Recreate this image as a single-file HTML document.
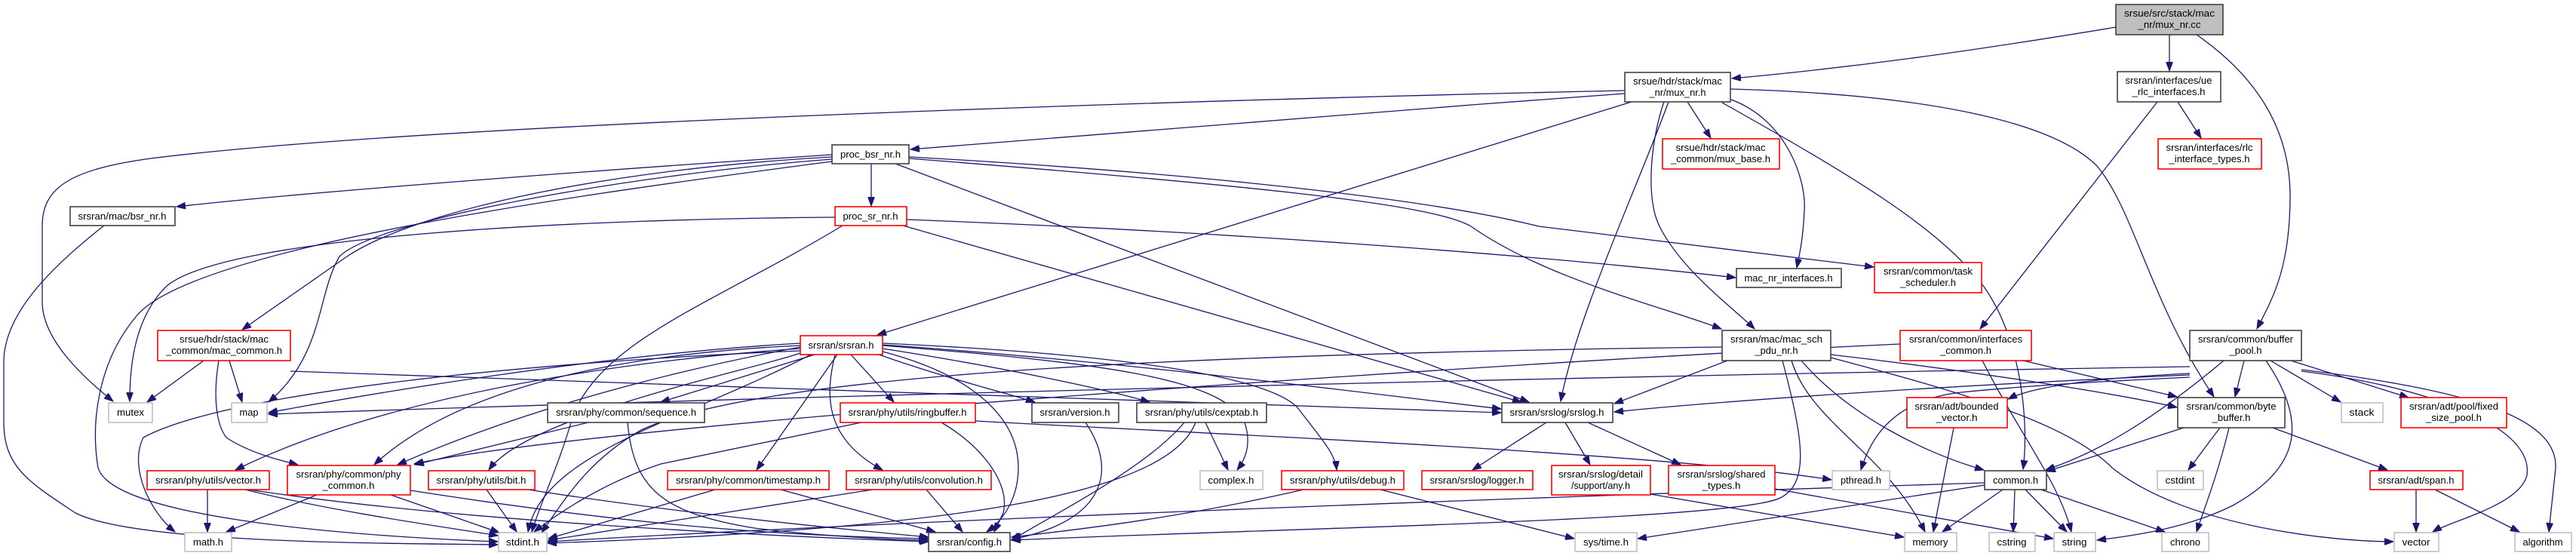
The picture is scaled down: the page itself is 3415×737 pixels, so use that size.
<!DOCTYPE html>
<html><head><meta charset="utf-8"><style>
html,body{margin:0;padding:0;background:#fff;}
svg{display:block;}
text{font-family:"Liberation Sans",sans-serif;font-size:13px;fill:#000;}
.e{fill:none;stroke:#191970;stroke-width:1.3;marker-end:url(#a);}
.b{fill:#fff;stroke:#404040;stroke-width:1.6;}
.r{fill:#fff;stroke:#ff0000;stroke-width:1.6;}
.g{fill:#fff;stroke:#bfbfbf;stroke-width:1.6;}
.rt{fill:#bfbfbf;stroke:#404040;stroke-width:1.6;}
</style></head><body>
<svg width="3415" height="737" viewBox="0 0 3415 737" xmlns="http://www.w3.org/2000/svg">
<defs><marker id="a" markerUnits="userSpaceOnUse" markerWidth="13" markerHeight="9" refX="12" refY="4.5" orient="auto"><path d="M0,0 L12,4.5 L0,9 z" fill="#191970" stroke="#191970"/></marker></defs>
<g>
<path class="e" d="M2805,36 C2600,70 2450,90 2296,104"/>
<path class="e" d="M2876,46 L2876,94"/>
<path class="e" d="M2912,46 C2990,100 3036,170 3036,260 C3036,360 3010,400 2992,436"/>
<path class="e" d="M2887,135 L2918,183"/>
<path class="e" d="M2860,135 L2625,436"/>
<path class="e" d="M2154,120 C1700,130 600,160 200,210 C90,225 56,250 56,300 L56,400 C56,450 110,500 150,532"/>
<path class="e" d="M2154,124 C1800,150 1400,180 1207,198"/>
<path class="e" d="M2163,135 L1163,444"/>
<path class="e" d="M2212,135 C2170,250 2090,420 2069,532"/>
<path class="e" d="M2206,135 C2190,180 2180,260 2200,300 C2230,360 2300,410 2326,436"/>
<path class="e" d="M2237,135 L2268,183"/>
<path class="e" d="M2295,132 C2370,160 2395,240 2392,280 C2390,320 2385,340 2382,355"/>
<path class="e" d="M2283,136 C2450,230 2570,300 2630,380 C2680,450 2690,560 2682,622"/>
<path class="e" d="M2294,118 C2550,125 2720,160 2780,220 C2830,280 2850,400 2935,526"/>
<path class="e" d="M1155,217 L1155,273"/>
<path class="e" d="M1103,205 C800,225 400,255 234,274"/>
<path class="e" d="M1103,208 C800,225 550,280 460,340 L321,437"/>
<path class="e" d="M1103,211 C850,230 500,290 450,340 C420,390 430,470 356,533"/>
<path class="e" d="M1103,214 C750,260 250,330 180,420 C130,480 120,560 130,620 C150,690 500,712 660,718"/>
<path class="e" d="M1187,217 L2027,533"/>
<path class="e" d="M1205,208 C1600,230 1900,265 2040,300 L2484,354"/>
<path class="e" d="M1205,210 C1650,245 1900,270 1950,300 C2050,370 2200,405 2282,436"/>
<path class="e" d="M1107,288 C800,290 300,310 220,380 C180,420 172,480 172,532"/>
<path class="e" d="M1117,299 C950,400 800,450 760,550 C740,620 715,670 705,705"/>
<path class="e" d="M1202,291 C1700,310 2100,345 2301,368"/>
<path class="e" d="M1197,299 L2017,533"/>
<path class="e" d="M138,299 C60,360 5,420 5,480 L5,560 C5,620 40,640 100,680 C180,720 500,720 660,722"/>
<path class="e" d="M270,478 L195,533"/>
<path class="e" d="M304,478 L321,533"/>
<path class="e" d="M290,478 C283,520 285,560 300,580 C330,600 370,610 395,616"/>
<path class="e" d="M385,492 C900,510 1600,535 1990,547"/>
<path class="e" d="M1080,470 L876,533"/>
<path class="e" d="M1128,470 L1185,533"/>
<path class="e" d="M1110,470 L1003,623"/>
<path class="e" d="M1107,470 C1095,520 1090,580 1170,623"/>
<path class="e" d="M1170,466 C1300,500 1350,560 1350,620 C1350,660 1330,690 1308,705"/>
<path class="e" d="M1165,470 C1250,500 1330,520 1372,533"/>
<path class="e" d="M1170,462 C1350,490 1480,520 1524,533"/>
<path class="e" d="M1170,458 C1450,480 1620,500 1650,560 C1660,590 1650,610 1640,623"/>
<path class="e" d="M1170,455 C1500,470 1680,500 1720,540 C1750,580 1770,600 1772,623"/>
<path class="e" d="M1170,457 C1500,480 1800,520 1990,542"/>
<path class="e" d="M1061,462 C800,480 500,530 312,623"/>
<path class="e" d="M1061,458 C800,470 600,520 496,616"/>
<path class="e" d="M1061,460 C900,490 700,540 527,616"/>
<path class="e" d="M1061,468 C1000,490 700,550 648,623"/>
<path class="e" d="M1061,455 C800,470 500,520 356,547"/>
<path class="e" d="M1061,465 C700,480 300,520 190,580 C170,620 200,680 232,705"/>
<path class="e" d="M1075,470 C900,560 720,600 700,705"/>
<path class="e" d="M2290,478 L2140,535"/>
<path class="e" d="M2283,460 C1500,470 1000,500 850,570 C780,610 750,660 718,706"/>
<path class="e" d="M2375,478 C2400,560 2500,600 2552,705"/>
<path class="e" d="M2388,478 C2450,550 2550,600 2630,623"/>
<path class="e" d="M2427,470 C2600,490 2800,520 2886,540"/>
<path class="e" d="M2427,474 C2600,520 2740,560 2800,620 C2900,700 3100,718 3173,718"/>
<path class="e" d="M2363,478 C2390,580 2400,640 2360,660 C2300,690 1700,700 1341,716"/>
<path class="e" d="M2682,478 L2886,526"/>
<path class="e" d="M2628,478 C2680,580 2730,640 2746,705"/>
<path class="e" d="M2519,456 C2000,480 800,560 549,615"/>
<path class="e" d="M2975,478 L2963,526"/>
<path class="e" d="M2948,478 C2850,560 2780,600 2712,623"/>
<path class="e" d="M3010,478 L3103,533"/>
<path class="e" d="M3037,478 L3193,527"/>
<path class="e" d="M3004,478 C3060,560 3050,620 2960,670 C2900,700 2830,710 2780,716"/>
<path class="e" d="M3051,492 C3200,510 3360,560 3350,630 C3340,670 3250,690 3225,705"/>
<path class="e" d="M3051,490 C3300,520 3390,560 3388,620 L3379,705"/>
<path class="e" d="M2903,497 C2600,510 2300,530 2140,546"/>
<path class="e" d="M2903,500 C2800,505 2700,510 2600,520 C2510,530 2480,580 2467,623"/>
<path class="e" d="M2903,495 C2800,500 2700,510 2662,529"/>
<path class="e" d="M2903,486 C2000,500 900,530 356,549"/>
<path class="e" d="M2895,567 L2713,625"/>
<path class="e" d="M2943,567 L2901,623"/>
<path class="e" d="M2955,567 C2940,630 2920,680 2912,705"/>
<path class="e" d="M3013,567 L3165,623"/>
<path class="e" d="M2655,649 L2575,705"/>
<path class="e" d="M2671,649 L2669,705"/>
<path class="e" d="M2685,649 L2740,705"/>
<path class="e" d="M2706,649 L2870,705"/>
<path class="e" d="M2631,643 L2171,714"/>
<path class="e" d="M2631,640 C2000,660 1200,690 726,718"/>
<path class="e" d="M3203,649 L3203,705"/>
<path class="e" d="M3228,649 L3340,705"/>
<path class="e" d="M2590,567 L2563,705"/>
<path class="e" d="M2050,560 L1952,623"/>
<path class="e" d="M2075,560 L2108,616"/>
<path class="e" d="M2105,560 L2228,616"/>
<path class="e" d="M2188,655 L2524,712"/>
<path class="e" d="M2353,648 L2722,714"/>
<path class="e" d="M1830,649 L2087,714"/>
<path class="e" d="M1728,649 C1550,690 1400,705 1341,712"/>
<path class="e" d="M1598,560 L1628,623"/>
<path class="e" d="M1570,560 C1520,620 1400,680 1341,716"/>
<path class="e" d="M1585,560 C1550,650 1300,700 726,720"/>
<path class="e" d="M1439,560 C1480,620 1470,690 1341,715"/>
<path class="e" d="M780,560 L550,616"/>
<path class="e" d="M832,560 C840,650 880,680 1000,700 C1100,712 1200,716 1230,716"/>
<path class="e" d="M1142,560 L876,615 C800,640 740,680 708,705"/>
<path class="e" d="M1248,560 C1300,590 1340,640 1330,680 L1318,705"/>
<path class="e" d="M1293,558 C1600,575 2200,600 2428,636"/>
<path class="e" d="M948,649 L727,714"/>
<path class="e" d="M1035,649 L1240,705"/>
<path class="e" d="M1157,649 C900,690 800,705 727,716"/>
<path class="e" d="M1228,649 L1276,705"/>
<path class="e" d="M645,649 L685,705"/>
<path class="e" d="M700,649 C900,680 1100,700 1231,712"/>
<path class="e" d="M275,649 L275,705"/>
<path class="e" d="M325,649 C450,680 600,700 660,710"/>
<path class="e" d="M330,649 C600,690 1000,710 1231,718"/>
<path class="e" d="M420,656 L300,705"/>
<path class="e" d="M518,656 L662,706"/>
<path class="e" d="M544,650 C800,690 1000,710 1231,714"/>
</g>
<g text-anchor="middle">
<rect class="rt" x="2805" y="6" width="142" height="40"/><text x="2876" y="22" textLength="120" lengthAdjust="spacingAndGlyphs">srsue/src/stack/mac</text><text x="2876" y="37" textLength="83" lengthAdjust="spacingAndGlyphs">_nr/mux_nr.cc</text>
<rect class="b" x="2154" y="96" width="140" height="39"/><text x="2224" y="112" textLength="118" lengthAdjust="spacingAndGlyphs">srsue/hdr/stack/mac</text><text x="2224" y="127" textLength="75" lengthAdjust="spacingAndGlyphs">_nr/mux_nr.h</text>
<rect class="b" x="2807" y="95" width="137" height="40"/><text x="2875" y="111" textLength="115" lengthAdjust="spacingAndGlyphs">srsran/interfaces/ue</text><text x="2875" y="126" textLength="97" lengthAdjust="spacingAndGlyphs">_rlc_interfaces.h</text>
<rect class="r" x="2861" y="184" width="137" height="40"/><text x="2929" y="200" textLength="115" lengthAdjust="spacingAndGlyphs">srsran/interfaces/rlc</text><text x="2929" y="215" textLength="107" lengthAdjust="spacingAndGlyphs">_interface_types.h</text>
<rect class="r" x="2204" y="184" width="155" height="40"/><text x="2281" y="200" textLength="119" lengthAdjust="spacingAndGlyphs">srsue/hdr/stack/mac</text><text x="2281" y="215" textLength="132" lengthAdjust="spacingAndGlyphs">_common/mux_base.h</text>
<rect class="b" x="1103" y="192" width="102" height="25"/><text x="1154" y="209" textLength="80" lengthAdjust="spacingAndGlyphs">proc_bsr_nr.h</text>
<rect class="r" x="1107" y="274" width="95" height="25"/><text x="1154" y="291" textLength="73" lengthAdjust="spacingAndGlyphs">proc_sr_nr.h</text>
<rect class="b" x="93" y="274" width="139" height="25"/><text x="162" y="291" textLength="117" lengthAdjust="spacingAndGlyphs">srsran/mac/bsr_nr.h</text>
<rect class="b" x="2302" y="356" width="139" height="25"/><text x="2371" y="373" textLength="117" lengthAdjust="spacingAndGlyphs">mac_nr_interfaces.h</text>
<rect class="r" x="2485" y="348" width="142" height="40"/><text x="2556" y="364" textLength="118" lengthAdjust="spacingAndGlyphs">srsran/common/task</text><text x="2556" y="379" textLength="74" lengthAdjust="spacingAndGlyphs">_scheduler.h</text>
<rect class="r" x="209" y="438" width="176" height="40"/><text x="297" y="454" textLength="118" lengthAdjust="spacingAndGlyphs">srsue/hdr/stack/mac</text><text x="297" y="469" textLength="154" lengthAdjust="spacingAndGlyphs">_common/mac_common.h</text>
<rect class="r" x="1061" y="445" width="109" height="25"/><text x="1115" y="462" textLength="87" lengthAdjust="spacingAndGlyphs">srsran/srsran.h</text>
<rect class="b" x="2283" y="438" width="144" height="40"/><text x="2355" y="454" textLength="122" lengthAdjust="spacingAndGlyphs">srsran/mac/mac_sch</text><text x="2355" y="469" textLength="57" lengthAdjust="spacingAndGlyphs">_pdu_nr.h</text>
<rect class="r" x="2519" y="438" width="174" height="40"/><text x="2606" y="454" textLength="150" lengthAdjust="spacingAndGlyphs">srsran/common/interfaces</text><text x="2606" y="469" textLength="68" lengthAdjust="spacingAndGlyphs">_common.h</text>
<rect class="b" x="2903" y="438" width="148" height="40"/><text x="2977" y="454" textLength="126" lengthAdjust="spacingAndGlyphs">srsran/common/buffer</text><text x="2977" y="469" textLength="43" lengthAdjust="spacingAndGlyphs">_pool.h</text>
<rect class="g" x="144" y="534" width="58" height="26"/><text x="173" y="551" textLength="36" lengthAdjust="spacingAndGlyphs">mutex</text>
<rect class="g" x="307" y="534" width="47" height="26"/><text x="330" y="551" textLength="25" lengthAdjust="spacingAndGlyphs">map</text>
<rect class="b" x="726" y="534" width="208" height="26"/><text x="830" y="551" textLength="186" lengthAdjust="spacingAndGlyphs">srsran/phy/common/sequence.h</text>
<rect class="r" x="1114" y="534" width="179" height="26"/><text x="1203" y="551" textLength="157" lengthAdjust="spacingAndGlyphs">srsran/phy/utils/ringbuffer.h</text>
<rect class="b" x="1368" y="534" width="115" height="26"/><text x="1425" y="551" textLength="93" lengthAdjust="spacingAndGlyphs">srsran/version.h</text>
<rect class="b" x="1507" y="534" width="172" height="26"/><text x="1593" y="551" textLength="150" lengthAdjust="spacingAndGlyphs">srsran/phy/utils/cexptab.h</text>
<rect class="b" x="1991" y="534" width="147" height="26"/><text x="2064" y="551" textLength="125" lengthAdjust="spacingAndGlyphs">srsran/srslog/srslog.h</text>
<rect class="r" x="2528" y="527" width="133" height="40"/><text x="2594" y="543" textLength="111" lengthAdjust="spacingAndGlyphs">srsran/adt/bounded</text><text x="2594" y="558" textLength="55" lengthAdjust="spacingAndGlyphs">_vector.h</text>
<rect class="b" x="2887" y="527" width="142" height="40"/><text x="2958" y="543" textLength="119" lengthAdjust="spacingAndGlyphs">srsran/common/byte</text><text x="2958" y="558" textLength="51" lengthAdjust="spacingAndGlyphs">_buffer.h</text>
<rect class="g" x="3104" y="534" width="55" height="26"/><text x="3131" y="551" textLength="33" lengthAdjust="spacingAndGlyphs">stack</text>
<rect class="r" x="3183" y="527" width="140" height="40"/><text x="3253" y="543" textLength="118" lengthAdjust="spacingAndGlyphs">srsran/adt/pool/fixed</text><text x="3253" y="558" textLength="74" lengthAdjust="spacingAndGlyphs">_size_pool.h</text>
<rect class="r" x="195" y="624" width="162" height="25"/><text x="276" y="641" textLength="140" lengthAdjust="spacingAndGlyphs">srsran/phy/utils/vector.h</text>
<rect class="r" x="381" y="617" width="163" height="39"/><text x="462" y="633" textLength="139" lengthAdjust="spacingAndGlyphs">srsran/phy/common/phy</text><text x="462" y="648" textLength="69" lengthAdjust="spacingAndGlyphs">_common.h</text>
<rect class="r" x="568" y="624" width="141" height="25"/><text x="638" y="641" textLength="119" lengthAdjust="spacingAndGlyphs">srsran/phy/utils/bit.h</text>
<rect class="r" x="885" y="624" width="214" height="25"/><text x="992" y="641" textLength="192" lengthAdjust="spacingAndGlyphs">srsran/phy/common/timestamp.h</text>
<rect class="r" x="1122" y="624" width="192" height="25"/><text x="1218" y="641" textLength="170" lengthAdjust="spacingAndGlyphs">srsran/phy/utils/convolution.h</text>
<rect class="g" x="1591" y="624" width="83" height="25"/><text x="1632" y="641" textLength="61" lengthAdjust="spacingAndGlyphs">complex.h</text>
<rect class="r" x="1699" y="624" width="162" height="25"/><text x="1780" y="641" textLength="140" lengthAdjust="spacingAndGlyphs">srsran/phy/utils/debug.h</text>
<rect class="r" x="1885" y="624" width="147" height="25"/><text x="1958" y="641" textLength="125" lengthAdjust="spacingAndGlyphs">srsran/srslog/logger.h</text>
<rect class="r" x="2057" y="617" width="131" height="39"/><text x="2122" y="633" textLength="112" lengthAdjust="spacingAndGlyphs">srsran/srslog/detail</text><text x="2122" y="648" textLength="78" lengthAdjust="spacingAndGlyphs">/support/any.h</text>
<rect class="r" x="2212" y="617" width="141" height="39"/><text x="2282" y="633" textLength="117" lengthAdjust="spacingAndGlyphs">srsran/srslog/shared</text><text x="2282" y="648" textLength="51" lengthAdjust="spacingAndGlyphs">_types.h</text>
<rect class="g" x="2429" y="624" width="76" height="25"/><text x="2467" y="641" textLength="54" lengthAdjust="spacingAndGlyphs">pthread.h</text>
<rect class="b" x="2631" y="624" width="82" height="25"/><text x="2672" y="641" textLength="60" lengthAdjust="spacingAndGlyphs">common.h</text>
<rect class="g" x="2860" y="624" width="61" height="25"/><text x="2890" y="641" textLength="39" lengthAdjust="spacingAndGlyphs">cstdint</text>
<rect class="r" x="3142" y="624" width="123" height="25"/><text x="3203" y="641" textLength="101" lengthAdjust="spacingAndGlyphs">srsran/adt/span.h</text>
<rect class="g" x="245" y="706" width="62" height="25"/><text x="276" y="723" textLength="40" lengthAdjust="spacingAndGlyphs">math.h</text>
<rect class="g" x="661" y="706" width="64" height="25"/><text x="693" y="723" textLength="44" lengthAdjust="spacingAndGlyphs">stdint.h</text>
<rect class="b" x="1231" y="706" width="108" height="25"/><text x="1285" y="723" textLength="86" lengthAdjust="spacingAndGlyphs">srsran/config.h</text>
<rect class="g" x="2088" y="706" width="82" height="25"/><text x="2129" y="723" textLength="60" lengthAdjust="spacingAndGlyphs">sys/time.h</text>
<rect class="g" x="2525" y="706" width="69" height="25"/><text x="2559" y="723" textLength="47" lengthAdjust="spacingAndGlyphs">memory</text>
<rect class="g" x="2637" y="706" width="61" height="25"/><text x="2667" y="723" textLength="39" lengthAdjust="spacingAndGlyphs">cstring</text>
<rect class="g" x="2723" y="706" width="55" height="25"/><text x="2750" y="723" textLength="33" lengthAdjust="spacingAndGlyphs">string</text>
<rect class="g" x="2866" y="706" width="62" height="25"/><text x="2897" y="723" textLength="40" lengthAdjust="spacingAndGlyphs">chrono</text>
<rect class="g" x="3174" y="706" width="59" height="25"/><text x="3203" y="723" textLength="37" lengthAdjust="spacingAndGlyphs">vector</text>
<rect class="g" x="3334" y="706" width="75" height="25"/><text x="3371" y="723" textLength="53" lengthAdjust="spacingAndGlyphs">algorithm</text>
</g>
</svg>
</body></html>
